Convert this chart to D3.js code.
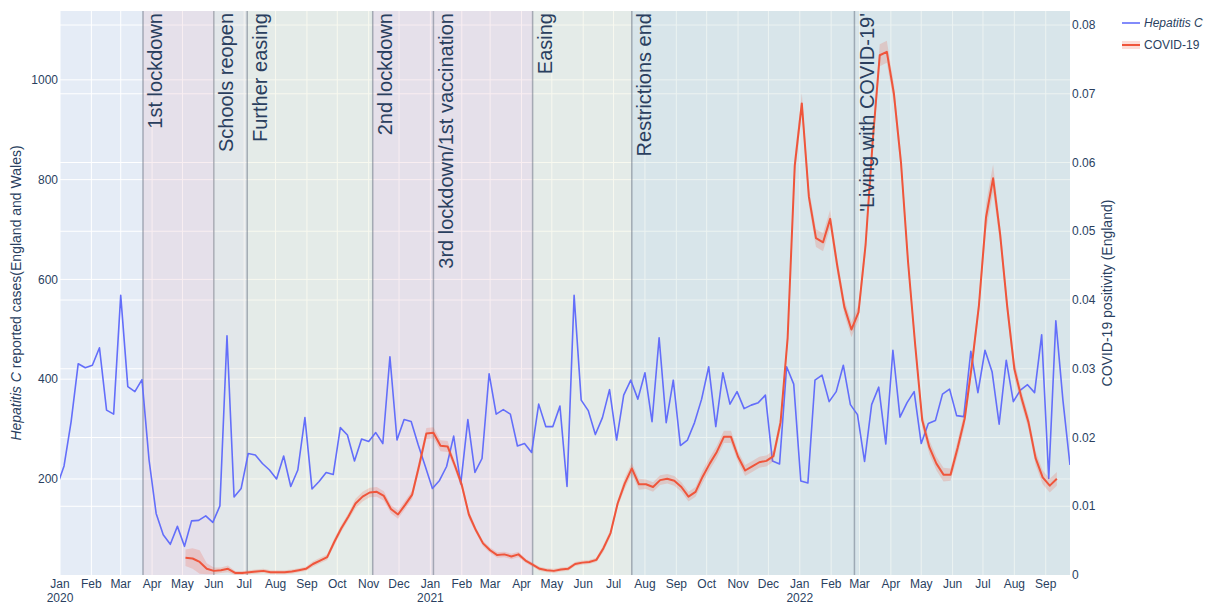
<!DOCTYPE html>
<html lang="en">
<head>
<meta charset="utf-8">
<title>Hepatitis C reports and COVID-19 positivity</title>
<script src="https://cdn.jsdelivr.net/npm/d3@7"></script>
<style type="text/css">
	body { margin: 0; background: #fff; }
	text { font-family: "Liberation Sans", Arial, sans-serif; }
</style>
</head>
<body>
<script type="text/javascript" charset="utf-8">

//data - weekly series
var hepStart = "2019-12-29"
var hepCases = [185,
	226, 315, 431, 423, 428, 463, 338, 330, 568, 385,
	375, 399, 238, 131, 88, 69, 105, 65, 116, 117,
	126, 113, 146, 487, 164, 181, 251, 248, 231, 218,
	200, 246, 185, 218, 323, 180, 195, 213, 209, 303,
	288, 236, 280, 275, 293, 271, 445, 278, 319, 315,
	268, 225, 181, 197, 225, 286, 190, 319, 213, 241,
	411, 330, 339, 330, 266, 271, 253, 350, 305, 305,
	346, 185, 568, 358, 337, 289, 323, 379, 278, 368,
	398, 360, 413, 315, 483, 313, 398, 267, 278, 313,
	360, 425, 305, 413, 350, 375, 341, 348, 353, 368,
	236, 230, 425, 390, 196, 192, 398, 408, 355, 375,
	428, 349, 329, 235, 349, 384, 270, 458, 324, 353,
	375, 271, 311, 317, 370, 380, 327, 325, 456, 373,
	458, 415, 310, 438, 355, 378, 389, 373, 489, 201,
	517, 358, 228]

var covidStart = "2020-05-04"
var covidPos = [
	0.0025, 0.0024, 0.0019, 0.0009, 0.0006, 0.0007, 0.0009, 0.0003, 0.0003, 0.0004,
	0.0005, 0.0006, 0.0004, 0.0004, 0.0004, 0.0005, 0.0007, 0.0009, 0.0016, 0.0021,
	0.0026, 0.0048, 0.0068, 0.0085, 0.0104, 0.0114, 0.0120, 0.0121, 0.0115, 0.0096,
	0.0088, 0.0102, 0.0117, 0.0160, 0.0206, 0.0207, 0.0188, 0.0187, 0.0160, 0.0131,
	0.0088, 0.0065, 0.0046, 0.0036, 0.0029, 0.0030, 0.0027, 0.0030, 0.0021, 0.0015,
	0.0009, 0.0007, 0.0006, 0.0008, 0.0009, 0.0016, 0.0018, 0.0019, 0.0022, 0.0039,
	0.0061, 0.0104, 0.0133, 0.0155, 0.0132, 0.0132, 0.0128, 0.0138, 0.0140, 0.0137,
	0.0128, 0.0114, 0.0121, 0.0143, 0.0162, 0.0179, 0.0201, 0.0201, 0.0172, 0.0152,
	0.0158, 0.0164, 0.0166, 0.0173, 0.0222, 0.0345, 0.0595, 0.0686, 0.0550, 0.0490,
	0.0484, 0.0518, 0.0450, 0.0390, 0.0357, 0.0382, 0.0480, 0.0630, 0.0756, 0.0761,
	0.0700, 0.0600, 0.0455, 0.0335, 0.0225, 0.0186, 0.0162, 0.0146, 0.0146, 0.0185,
	0.0228, 0.0305, 0.0392, 0.0520, 0.0577, 0.0495, 0.0390, 0.0300, 0.0258, 0.0222,
	0.0170, 0.0142, 0.0130, 0.0140]
// half width of the confidence band
var covidErr = [
	0.0012, 0.0015, 0.0017, 0.0008, 0.0005, 0.0004, 0.0005, 0.0003, 0.0003, 0.0003,
	0.0003, 0.0003, 0.0003, 0.0003, 0.0003, 0.0003, 0.0003, 0.0003, 0.0004, 0.0004,
	0.0004, 0.0005, 0.0005, 0.0005, 0.0007, 0.0007, 0.0007, 0.0007, 0.0007, 0.0006,
	0.0006, 0.0006, 0.0006, 0.0008, 0.0008, 0.0008, 0.0008, 0.0008, 0.0006, 0.0006,
	0.0006, 0.0004, 0.0004, 0.0004, 0.0004, 0.0004, 0.0004, 0.0004, 0.0003, 0.0003,
	0.0003, 0.0003, 0.0003, 0.0003, 0.0003, 0.0003, 0.0003, 0.0003, 0.0003, 0.0005,
	0.0005, 0.0005, 0.0008, 0.0008, 0.0008, 0.0007, 0.0007, 0.0007, 0.0007, 0.0007,
	0.0007, 0.0007, 0.0007, 0.0009, 0.0009, 0.0009, 0.0009, 0.0009, 0.0008, 0.0008,
	0.0008, 0.0008, 0.0008, 0.0008, 0.0010, 0.0010, 0.0015, 0.0015, 0.0013, 0.0013,
	0.0013, 0.0013, 0.0011, 0.0011, 0.0011, 0.0011, 0.0012, 0.0012, 0.0016, 0.0016,
	0.0014, 0.0014, 0.0010, 0.0010, 0.0010, 0.0010, 0.0010, 0.0010, 0.0009, 0.0011,
	0.0011, 0.0011, 0.0011, 0.0020, 0.0020, 0.0013, 0.0013, 0.0013, 0.0010, 0.0010,
	0.0010, 0.0010, 0.0010, 0.0010]

var eventDates = ["2020-03-23", "2020-06-01", "2020-07-04", "2020-11-05", "2021-01-04", "2021-04-12", "2021-07-19", "2022-02-24"]
var eventLabels = ["1st lockdown", "Schools reopen", "Further easing", "2nd lockdown", "3rd lockdown/1st vaccination", "Easing", "Restrictions end", "'Living with COVID-19'"]
var regionFills = ["rgb(233,188,198)", "rgb(221,216,198)", "rgb(229,232,190)", "rgb(233,188,198)", "rgb(233,188,198)", "rgb(229,232,190)", "rgb(181,208,198)", "rgb(181,208,198)"]

var leftTicks = [200, 400, 600, 800, 1000]
var rightTicks = [0, 0.01, 0.02, 0.03, 0.04, 0.05, 0.06, 0.07, 0.08]
var seriesNames = ["Hepatitis C", "COVID-19"]

var parse = d3.timeParse("%Y-%m-%d")
var hepData = hepCases.map(function(v, i) { return {date: d3.timeDay.offset(parse(hepStart), 7 * i), value: v} })
var covidData = covidPos.map(function(v, i) { return {date: d3.timeDay.offset(parse(covidStart), 7 * i), value: v, err: covidErr[i]} })

var ink = "#2a3f5f"
// plot box (window.top is read-only, so no bare "top")
var pL = 60, pR = 1070, pT = 11, pB = 575

var x = d3.scaleTime().domain([parse("2020-01-01"), parse("2022-09-25")]).range([pL, pR])
var yL = d3.scaleLinear().domain([7.5, 1138]).range([pB, pT])
var yR = d3.scaleLinear().domain([0, 0.08204]).range([pB, pT])

var canvas = d3.select("body").append("svg").attr("width", 1208).attr("height", 606)

canvas.append("defs").append("clipPath").attr("id", "plotclip")
	.append("rect").attr("x", pL).attr("y", pT).attr("width", pR - pL).attr("height", pB - pT)

//////////////////////////// background + grid ////////////////////////////
canvas.append("rect")
	.attr("x", pL).attr("y", pT)
	.attr("width", pR - pL).attr("height", pB - pT)
	.attr("fill", "#e5ecf6")

var grid = canvas.append("g").attr("stroke", "#fff").attr("stroke-width", 1)
var months = x.ticks(d3.timeMonth.every(1))
grid.selectAll(".vx").data(months).enter().append("line")
	.attr("x1", function(d) { return x(d) }).attr("x2", function(d) { return x(d) })
	.attr("y1", pT).attr("y2", pB)
grid.selectAll(".hl").data(leftTicks).enter().append("line")
	.attr("x1", pL).attr("x2", pR)
	.attr("y1", function(d) { return yL(d) }).attr("y2", function(d) { return yL(d) })
grid.selectAll(".hr").data(rightTicks.slice(1)).enter().append("line")
	.attr("x1", pL).attr("x2", pR)
	.attr("y1", function(d) { return yR(d) }).attr("y2", function(d) { return yR(d) })

//////////////////////////// policy periods ////////////////////////////
var events = eventDates.map(function(d, i) {
	return {start: parse(d), end: i < eventDates.length - 1 ? parse(eventDates[i + 1]) : x.domain()[1], label: eventLabels[i], fill: regionFills[i]}
})

canvas.append("g").selectAll("rect").data(events).enter().append("rect")
	.attr("x", function(d) { return x(d.start) })
	.attr("y", pT)
	.attr("width", function(d) { return x(d.end) - x(d.start) })
	.attr("height", pB - pT)
	.attr("fill", function(d) { return d.fill })
	.attr("fill-opacity", 0.25)

canvas.append("g").selectAll("line").data(events).enter().append("line")
	.attr("x1", function(d) { return x(d.start) }).attr("x2", function(d) { return x(d.start) })
	.attr("y1", pT).attr("y2", pB)
	.attr("stroke", "rgb(100,110,125)")
	.attr("stroke-opacity", 0.5)
	.attr("stroke-width", 1.5)

//////////////////////////// series ////////////////////////////
var plot = canvas.append("g").attr("clip-path", "url(#plotclip)")

plot.append("path").datum(hepData)
	.attr("fill", "none")
	.attr("stroke", "#636efa")
	.attr("stroke-width", 1.6)
	.attr("stroke-linejoin", "round")
	.attr("d", d3.line().x(function(d) { return x(d.date) }).y(function(d) { return yL(d.value) }))

plot.append("path").datum(covidData)
	.attr("fill", "rgba(239,85,59,0.2)")
	.attr("stroke", "none")
	.attr("d", d3.area().x(function(d) { return x(d.date) })
		.y0(function(d) { return yR(d.value - d.err) })
		.y1(function(d) { return yR(d.value + d.err) }))

plot.append("path").datum(covidData)
	.attr("fill", "none")
	.attr("stroke", "#ef553b")
	.attr("stroke-width", 2)
	.attr("stroke-linejoin", "round")
	.attr("d", d3.line().x(function(d) { return x(d.date) }).y(function(d) { return yR(d.value) }))

// event labels, rotated
canvas.append("g").selectAll("text").data(events).enter().append("text")
	.attr("transform", function(d) { return "translate(" + (x(d.start) + 19.5) + "," + (pT + 2) + ") rotate(-90)" })
	.attr("text-anchor", "end")
	.attr("font-size", 20)
	.attr("fill", ink)
	.text(function(d) { return d.label })

//////////////////////////// axes ////////////////////////////
var fmtMonth = d3.timeFormat("%b"), fmtYear = d3.timeFormat("%Y")
var xt = canvas.append("g").attr("font-size", 12).attr("fill", ink).attr("text-anchor", "middle")
xt.selectAll(".m").data(months).enter().append("text")
	.attr("x", function(d) { return x(d) }).attr("y", 588)
	.text(function(d) { return fmtMonth(d) })
xt.selectAll(".yr").data(months.filter(function(d) { return d.getMonth() === 0 })).enter().append("text")
	.attr("x", function(d) { return x(d) }).attr("y", 602)
	.text(function(d) { return fmtYear(d) })

canvas.append("g").attr("font-size", 12).attr("fill", ink).attr("text-anchor", "end")
	.selectAll("text").data(leftTicks).enter().append("text")
	.attr("x", pL - 2).attr("y", function(d) { return yL(d) }).attr("dy", "0.35em")
	.text(function(d) { return d })

canvas.append("g").attr("font-size", 12).attr("fill", ink).attr("text-anchor", "start")
	.selectAll("text").data(rightTicks).enter().append("text")
	.attr("x", pR + 2).attr("y", function(d) { return yR(d) }).attr("dy", "0.35em")
	.text(function(d) { return d === 0 ? "0" : d3.format(".2f")(d) })

var lt = canvas.append("text")
	.attr("transform", "translate(21," + ((pT + pB) / 2) + ") rotate(-90)")
	.attr("text-anchor", "middle").attr("font-size", 14).attr("fill", ink)
lt.append("tspan").attr("font-style", "italic").text("Hepatitis C")
lt.append("tspan").text(" reported cases(England and Wales)")

canvas.append("text")
	.attr("transform", "translate(1112," + ((pT + pB) / 2) + ") rotate(-90)")
	.attr("text-anchor", "middle").attr("font-size", 14).attr("fill", ink)
	.text("COVID-19 positivity (England)")

//////////////////////////// legend ////////////////////////////
var legend = canvas.append("g")
legend.append("rect").attr("x", 1122).attr("y", 41).attr("width", 18).attr("height", 8)
	.attr("fill", "rgba(239,85,59,0.2)")
legend.append("line").attr("x1", 1122).attr("x2", 1140).attr("y1", 23).attr("y2", 23)
	.attr("stroke", "#636efa").attr("stroke-width", 1.6)
legend.append("line").attr("x1", 1122).attr("x2", 1140).attr("y1", 45).attr("y2", 45)
	.attr("stroke", "#ef553b").attr("stroke-width", 2)
legend.append("text").attr("x", 1144).attr("y", 23).attr("dy", "0.35em")
	.attr("font-size", 12).attr("fill", ink).attr("font-style", "italic").text(seriesNames[0])
legend.append("text").attr("x", 1144).attr("y", 45).attr("dy", "0.35em")
	.attr("font-size", 12).attr("fill", ink).text(seriesNames[1])

</script>
</body>
</html>
